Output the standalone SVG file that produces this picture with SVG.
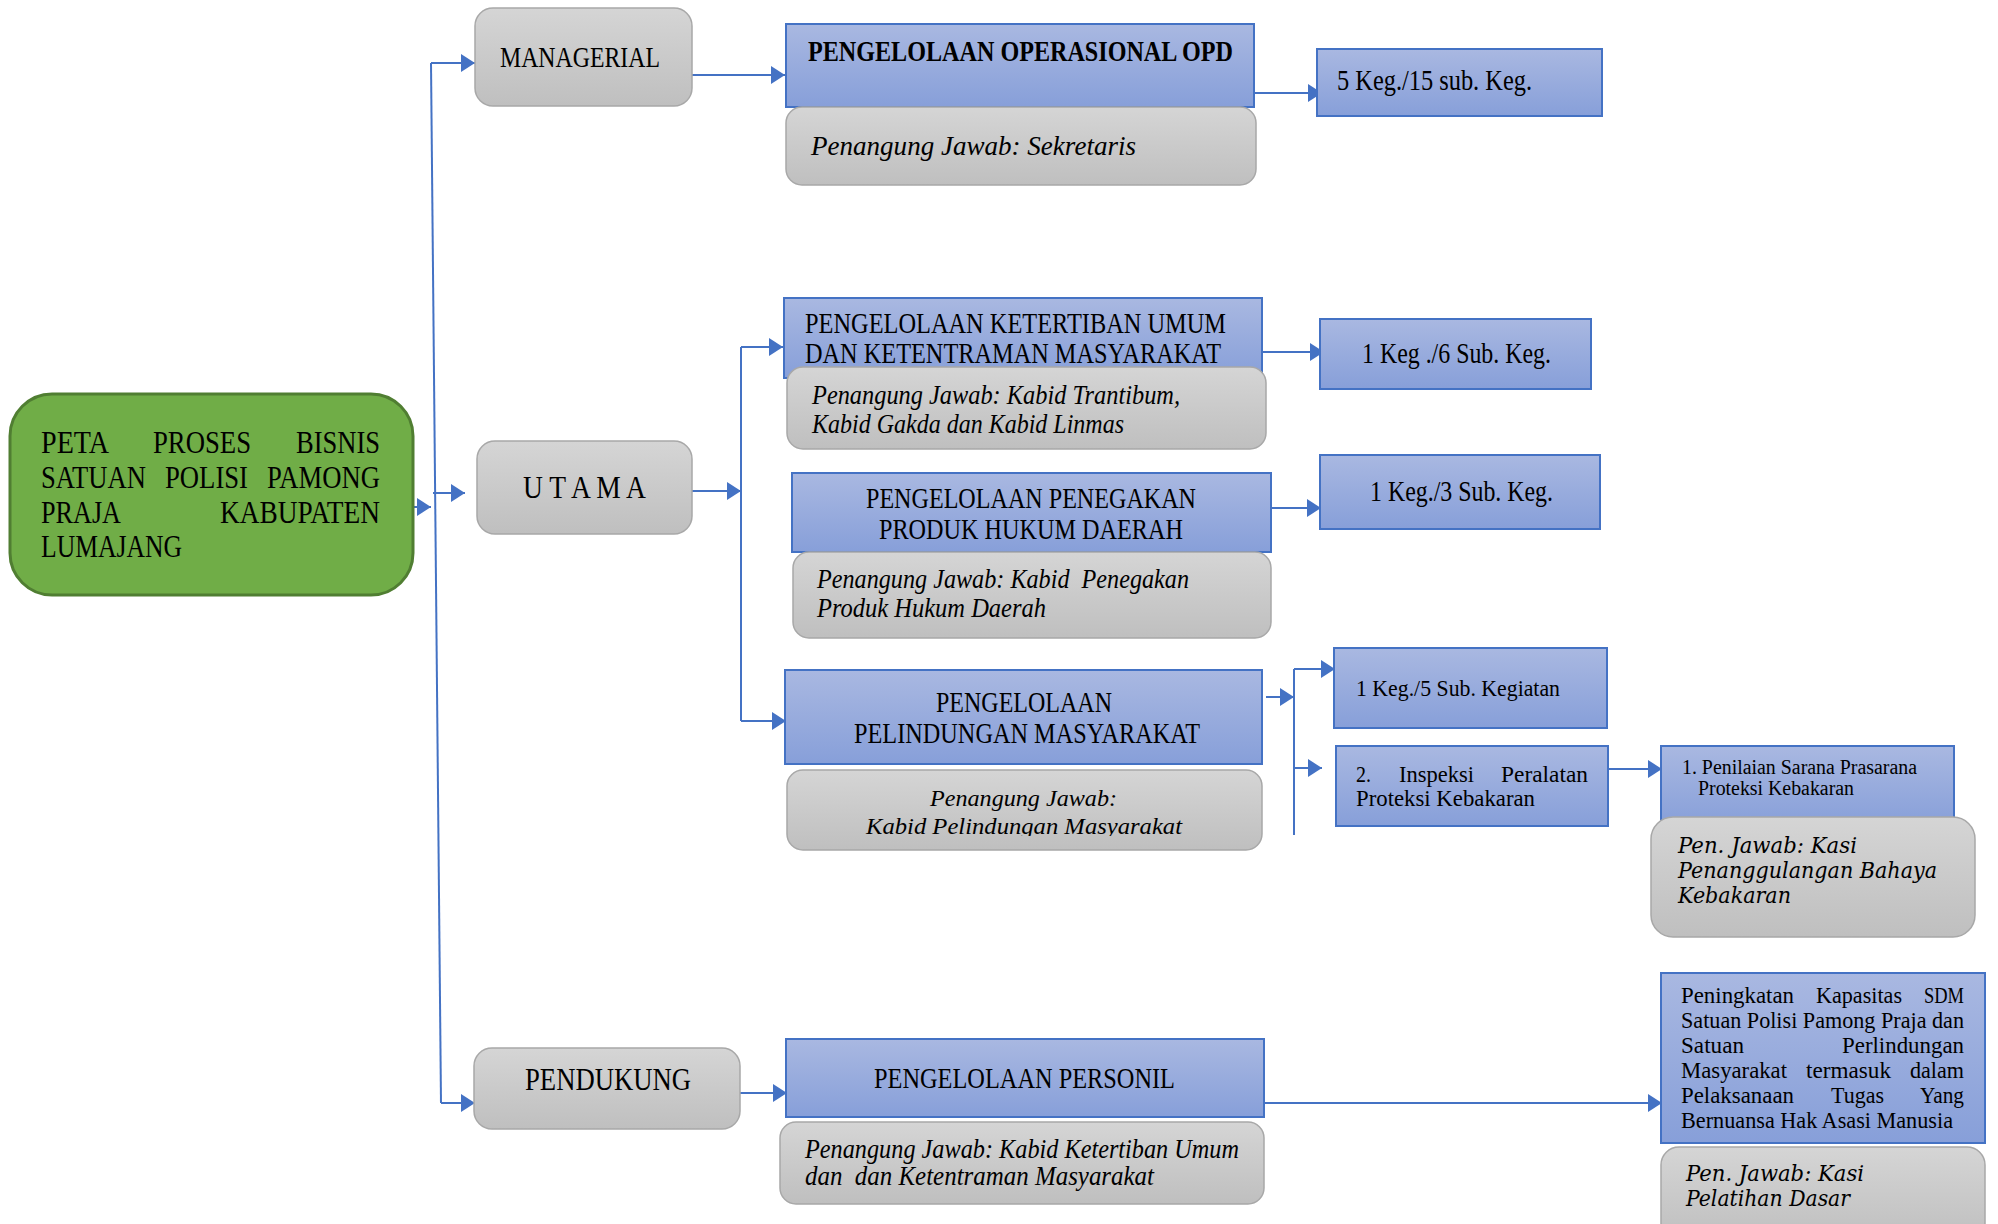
<svg xmlns="http://www.w3.org/2000/svg" width="1998" height="1224" viewBox="0 0 1998 1224">
<defs>
<linearGradient id="gBlue" x1="0" y1="0" x2="0" y2="1"><stop offset="0" stop-color="#A9B8E1"/><stop offset="1" stop-color="#879FD9"/></linearGradient>
<linearGradient id="gGray" x1="0" y1="0" x2="0" y2="1"><stop offset="0" stop-color="#D5D5D5"/><stop offset="1" stop-color="#BFBFBF"/></linearGradient>
<marker id="arr" markerUnits="userSpaceOnUse" markerWidth="15" markerHeight="18" refX="14" refY="9" orient="auto"><path d="M0,0 L14,9 L0,18 z" fill="#4472C4"/></marker>
<clipPath id="clipPel"><rect x="787" y="770" width="475" height="66"/></clipPath>
</defs>
<style>
.blue{fill:url(#gBlue);stroke:#4472C4;stroke-width:2}
.gray{fill:url(#gGray);stroke:#A8A8A8;stroke-width:1.5}
.con{fill:none;stroke:#4472C4;stroke-width:2}
.arr{marker-end:url(#arr)}
text{font-family:"Liberation Serif","DejaVu Serif",serif;fill:#000;white-space:pre}
.t26{font-size:29px}
.t28{font-size:31px}
.it{font-style:italic;font-size:27px}
.it2{font-style:italic;font-size:24px}
.sm{font-size:23px}
.xs{font-size:20px}
.slab{font-family:"DejaVu Serif","Liberation Serif",serif;font-style:italic;font-size:22px}
</style>

<g id="connectors">
<path class="con arr" d="M413,507 L431,507"/>
<path class="con" d="M431,63 L441,1103"/>
<path class="con arr" d="M431,63 L475,63"/>
<path class="con arr" d="M433,493 L465,493"/>
<path class="con arr" d="M441,1103 L475,1103"/>
<path class="con arr" d="M692,75 L785,75"/>
<path class="con arr" d="M1254,93 L1322,93"/>
<path class="con arr" d="M692,491 L741,491"/>
<path class="con" d="M741,347 L741,721"/>
<path class="con arr" d="M741,347 L783,347"/>
<path class="con arr" d="M741,721 L786,721"/>
<path class="con arr" d="M1257,352 L1324,352"/>
<path class="con arr" d="M1271,508 L1321,508"/>
<path class="con arr" d="M1266,697 L1294,697"/>
<path class="con" d="M1294,669 L1294,835"/>
<path class="con arr" d="M1294,669 L1335,669"/>
<path class="con arr" d="M1294,768 L1322,768"/>
<path class="con arr" d="M1608,769 L1662,769"/>
<path class="con arr" d="M740,1093 L787,1093"/>
<path class="con arr" d="M1264,1103 L1662,1103"/>
</g>

<g id="root">
<rect x="10" y="394" width="403" height="201" rx="42" fill="#70AD47" stroke="#507E32" stroke-width="3"/>
<text class="t28" y="453" x="41" textLength="68" lengthAdjust="spacingAndGlyphs">PETA</text>
<text class="t28" y="453" x="153" textLength="98" lengthAdjust="spacingAndGlyphs">PROSES</text>
<text class="t28" y="453" x="296" textLength="84" lengthAdjust="spacingAndGlyphs">BISNIS</text>
<text class="t28" y="488" x="41" textLength="105" lengthAdjust="spacingAndGlyphs">SATUAN</text>
<text class="t28" y="488" x="165" textLength="83" lengthAdjust="spacingAndGlyphs">POLISI</text>
<text class="t28" y="488" x="267" textLength="113" lengthAdjust="spacingAndGlyphs">PAMONG</text>
<text class="t28" y="523" x="41" textLength="80" lengthAdjust="spacingAndGlyphs">PRAJA</text>
<text class="t28" y="523" x="220" textLength="160" lengthAdjust="spacingAndGlyphs">KABUPATEN</text>
<text class="t28" y="557" x="41" textLength="141" lengthAdjust="spacingAndGlyphs">LUMAJANG</text>
</g>

<g id="managerial">
<rect class="gray" x="475" y="8" width="217" height="98" rx="18"/>
<text class="t26" x="500" y="67" textLength="160" lengthAdjust="spacingAndGlyphs">MANAGERIAL</text>
</g>
<g id="utama">
<rect class="gray" x="477" y="441" width="215" height="93" rx="18"/>
<text class="t28" x="523" y="498" textLength="123" lengthAdjust="spacingAndGlyphs">U T A M A</text>
</g>
<g id="pendukung">
<rect class="gray" x="474" y="1048" width="266" height="81" rx="18"/>
<text class="t28" x="525" y="1090" textLength="166" lengthAdjust="spacingAndGlyphs">PENDUKUNG</text>
</g>

<g id="opd">
<rect class="blue" x="786" y="24" width="468" height="83"/>
<text class="t26" font-weight="bold" x="808" y="61" textLength="425" lengthAdjust="spacingAndGlyphs">PENGELOLAAN OPERASIONAL OPD</text>
<rect class="gray" x="786" y="107" width="470" height="78" rx="16"/>
<text class="it" x="811" y="155" textLength="325" lengthAdjust="spacingAndGlyphs">Penangung Jawab: Sekretaris</text>
</g>
<g id="keg5">
<rect class="blue" x="1317" y="49" width="285" height="67"/>
<text class="t26" x="1337" y="90" textLength="195" lengthAdjust="spacingAndGlyphs">5 Keg./15 sub. Keg.</text>
</g>

<g id="ketertiban">
<rect class="blue" x="784" y="298" width="478" height="80"/>
<text class="t26" x="805" y="333" textLength="421" lengthAdjust="spacingAndGlyphs">PENGELOLAAN KETERTIBAN UMUM</text>
<text class="t26" x="805" y="363" textLength="416" lengthAdjust="spacingAndGlyphs">DAN KETENTRAMAN MASYARAKAT</text>
<rect class="gray" x="787" y="367" width="479" height="82" rx="16"/>
<text class="it" x="812" y="404" textLength="368" lengthAdjust="spacingAndGlyphs">Penangung Jawab: Kabid Trantibum,</text>
<text class="it" x="812" y="433" textLength="312" lengthAdjust="spacingAndGlyphs">Kabid Gakda dan Kabid Linmas</text>
</g>
<g id="keg6">
<rect class="blue" x="1320" y="319" width="271" height="70"/>
<text class="t26" x="1362" y="363" textLength="189" lengthAdjust="spacingAndGlyphs">1 Keg ./6 Sub. Keg.</text>
</g>

<g id="penegakan">
<rect class="blue" x="792" y="473" width="479" height="79"/>
<text class="t26" x="866" y="508" textLength="330" lengthAdjust="spacingAndGlyphs">PENGELOLAAN PENEGAKAN</text>
<text class="t26" x="879" y="539" textLength="304" lengthAdjust="spacingAndGlyphs">PRODUK HUKUM DAERAH</text>
<rect class="gray" x="793" y="552" width="478" height="86" rx="16"/>
<text class="it" x="817" y="588" textLength="372" lengthAdjust="spacingAndGlyphs">Penangung Jawab: Kabid  Penegakan</text>
<text class="it" x="817" y="617" textLength="229" lengthAdjust="spacingAndGlyphs">Produk Hukum Daerah</text>
</g>
<g id="keg3">
<rect class="blue" x="1320" y="455" width="280" height="74"/>
<text class="t26" x="1370" y="501" textLength="183" lengthAdjust="spacingAndGlyphs">1 Keg./3 Sub. Keg.</text>
</g>

<g id="pelindungan">
<rect class="blue" x="785" y="670" width="477" height="94"/>
<text class="t26" x="936" y="712" textLength="176" lengthAdjust="spacingAndGlyphs">PENGELOLAAN</text>
<text class="t26" x="854" y="743" textLength="346" lengthAdjust="spacingAndGlyphs">PELINDUNGAN MASYARAKAT</text>
<rect class="gray" x="787" y="770" width="475" height="80" rx="16"/>
<text class="it2" x="930" y="806" textLength="187" lengthAdjust="spacingAndGlyphs">Penangung Jawab:</text>
<text class="it2" x="866" y="834" textLength="316" lengthAdjust="spacingAndGlyphs" clip-path="url(#clipPel)">Kabid Pelindungan Masyarakat</text>
</g>
<g id="keg5sub">
<rect class="blue" x="1334" y="648" width="273" height="80"/>
<text class="sm" x="1356" y="696" textLength="204" lengthAdjust="spacingAndGlyphs">1 Keg./5 Sub. Kegiatan</text>
</g>
<g id="inspeksi">
<rect class="blue" x="1336" y="746" width="272" height="80"/>
<text class="sm" x="1356" y="782" textLength="15" lengthAdjust="spacingAndGlyphs">2.</text>
<text class="sm" x="1399" y="782" textLength="75" lengthAdjust="spacingAndGlyphs">Inspeksi</text>
<text class="sm" x="1501" y="782" textLength="87" lengthAdjust="spacingAndGlyphs">Peralatan</text>
<text class="sm" x="1356" y="806" textLength="179" lengthAdjust="spacingAndGlyphs">Proteksi Kebakaran</text>
</g>
<g id="penilaian">
<rect class="blue" x="1661" y="746" width="293" height="80"/>
<text class="xs" x="1682" y="774" textLength="235" lengthAdjust="spacingAndGlyphs">1. Penilaian Sarana Prasarana</text>
<text class="xs" x="1698" y="795" textLength="156" lengthAdjust="spacingAndGlyphs">Proteksi Kebakaran</text>
<rect class="gray" x="1651" y="817" width="324" height="120" rx="22"/>
<text class="slab" x="1678" y="853" textLength="179" lengthAdjust="spacingAndGlyphs">Pen. Jawab: Kasi</text>
<text class="slab" x="1678" y="878" textLength="259" lengthAdjust="spacingAndGlyphs">Penanggulangan Bahaya</text>
<text class="slab" x="1678" y="903" textLength="113" lengthAdjust="spacingAndGlyphs">Kebakaran</text>
</g>

<g id="personil">
<rect class="blue" x="786" y="1039" width="478" height="78"/>
<text class="t26" x="874" y="1088" textLength="301" lengthAdjust="spacingAndGlyphs">PENGELOLAAN PERSONIL</text>
<rect class="gray" x="780" y="1122" width="484" height="82" rx="16"/>
<text class="it" x="805" y="1158" textLength="434" lengthAdjust="spacingAndGlyphs">Penangung Jawab: Kabid Ketertiban Umum</text>
<text class="it" x="805" y="1185" textLength="349" lengthAdjust="spacingAndGlyphs">dan  dan Ketentraman Masyarakat</text>
</g>
<g id="peningkatan">
<rect class="blue" x="1661" y="973" width="324" height="170"/>
<text class="sm" x="1681" y="1003" textLength="113" lengthAdjust="spacingAndGlyphs">Peningkatan</text>
<text class="sm" x="1816" y="1003" textLength="86" lengthAdjust="spacingAndGlyphs">Kapasitas</text>
<text class="sm" x="1924" y="1003" textLength="40" lengthAdjust="spacingAndGlyphs">SDM</text>
<text class="sm" x="1681" y="1028" textLength="283" lengthAdjust="spacingAndGlyphs">Satuan Polisi Pamong Praja dan</text>
<text class="sm" x="1681" y="1053" textLength="63" lengthAdjust="spacingAndGlyphs">Satuan</text>
<text class="sm" x="1842" y="1053" textLength="122" lengthAdjust="spacingAndGlyphs">Perlindungan</text>
<text class="sm" x="1681" y="1078" textLength="106" lengthAdjust="spacingAndGlyphs">Masyarakat</text>
<text class="sm" x="1806" y="1078" textLength="85" lengthAdjust="spacingAndGlyphs">termasuk</text>
<text class="sm" x="1910" y="1078" textLength="54" lengthAdjust="spacingAndGlyphs">dalam</text>
<text class="sm" x="1681" y="1103" textLength="113" lengthAdjust="spacingAndGlyphs">Pelaksanaan</text>
<text class="sm" x="1831" y="1103" textLength="53" lengthAdjust="spacingAndGlyphs">Tugas</text>
<text class="sm" x="1920" y="1103" textLength="44" lengthAdjust="spacingAndGlyphs">Yang</text>
<text class="sm" x="1681" y="1128" textLength="272" lengthAdjust="spacingAndGlyphs">Bernuansa Hak Asasi Manusia</text>
<rect class="gray" x="1661" y="1147" width="324" height="95" rx="18"/>
<text class="slab" x="1686" y="1181" textLength="178" lengthAdjust="spacingAndGlyphs">Pen. Jawab: Kasi</text>
<text class="slab" x="1686" y="1206" textLength="164" lengthAdjust="spacingAndGlyphs">Pelatihan Dasar</text>
</g>
</svg>
